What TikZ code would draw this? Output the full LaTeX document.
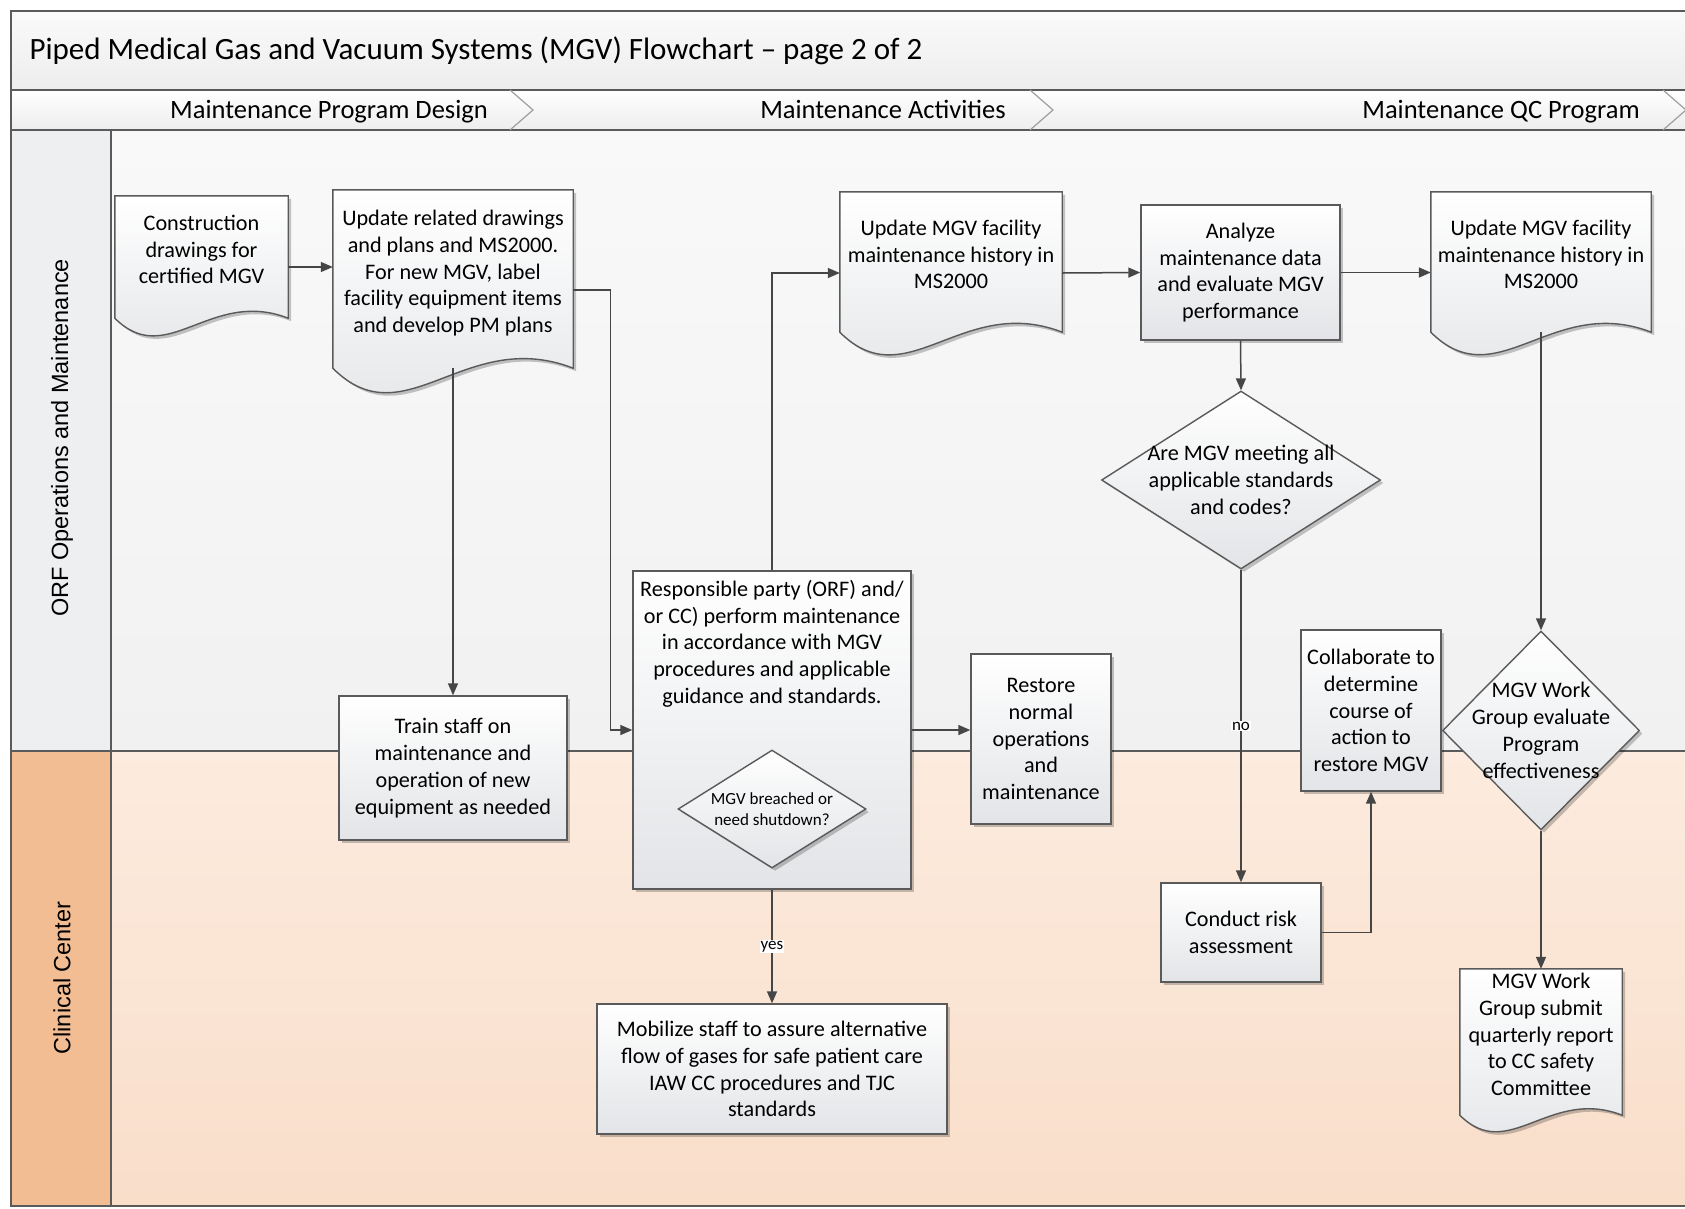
\documentclass[tikz,border=0pt]{standalone}
\usepackage{fontspec}
\setmainfont{Carlito}
\newfontfamily\lanefont{Liberation Sans}
\usetikzlibrary{calc,shapes.geometric,arrows.meta,shadows,backgrounds}
\pgfdeclarelayer{lanes}
\pgfsetlayers{lanes,background,main}

\definecolor{edgegray}{HTML}{5A5A5A}
\definecolor{flowgray}{HTML}{464646}
\definecolor{boxshade}{HTML}{E2E4E7}
\definecolor{bandtop}{HTML}{FAFAFA}
\definecolor{bandbot}{HTML}{EDEDED}
\definecolor{orftop}{HTML}{F9F9F9}
\definecolor{orfbot}{HTML}{F1F1F1}
\definecolor{orfhead}{HTML}{EEEFF1}
\definecolor{cctop}{HTML}{FCEBDE}
\definecolor{ccbot}{HTML}{F9DECA}
\definecolor{cchead}{HTML}{F2BD93}

\def\boxfont{\fontsize{22.2}{26.8}\selectfont}
\def\smallfont{\fontsize{17}{21}\selectfont}
\def\titlefont{\fontsize{31}{36}\selectfont}
\def\phasefont{\fontsize{26.5}{30}\selectfont}
\def\doctext#1{\smash{\begin{tabular}{@{}c@{}}#1\end{tabular}}}
\def\docshape#1{\path[docfill] let \p1=(#1.south west), \p2=(#1.south east), \n1={\x2-\x1} in
  (#1.north west) -- (#1.north east) -- (\p2)
  .. controls ({\x2-0.45*\n1},{\y2+0.175*\n1}) and ({\x1+0.3*\n1},{\y1-0.3*\n1}) .. (\p1) -- cycle;}

\tikzset{
  boxshadow/.style={drop shadow={shadow xshift=3pt, shadow yshift=-3pt, opacity=0.22, fill=black}},
  procbox/.style={draw=edgegray, line width=1.4pt, top color=white, bottom color=boxshade, boxshadow, align=center, font=\boxfont, inner sep=0pt},
  docnode/.style={font=\boxfont, inner sep=0pt},
  docfill/.style={draw=edgegray, line width=1.4pt, top color=white, bottom color=boxshade, boxshadow},
  decision/.style={diamond, procbox, inner sep=-20pt},
  phase/.style={anchor=base, font=\phasefont},
  flow/.style={draw=flowgray, line width=1.5pt, -{Triangle[length=12pt,width=10pt]}},
  flowlabel/.style={fill=white, inner sep=1pt, font=\smallfont},
  laneline/.style={draw=edgegray, line width=1.2pt},
  chevron/.style={draw=gray!75, line width=1.2pt},
}

\begin{document}
\begin{tikzpicture}[x=1pt, y=-1pt]
%%%%% START %%%%%
\useasboundingbox (0,0) rectangle (1685,1208);

\begin{pgfonlayer}{lanes}
  \path[top color=bandtop, bottom color=bandbot] (11,11) rectangle (1700,90);
  \path[top color=white, bottom color=bandbot] (11,90) rectangle (1700,130);
  \path[top color=orftop, bottom color=orfbot] (111,130) rectangle (1700,751);
  \path[fill=orfhead] (11,130) rectangle (111,751);
  \path[top color=cctop, bottom color=ccbot] (111,751) rectangle (1700,1206);
  \path[fill=cchead] (11,751) rectangle (111,1206);
  \draw[laneline] (1700,11) -- (11,11) -- (11,1206) -- (1700,1206);
  \draw[laneline] (11,90) -- (1700,90);
  \draw[laneline] (11,130) -- (1700,130);
  \draw[laneline] (111,130) -- (111,1206);
  \draw[laneline] (11,751) -- (1700,751);
  \draw[chevron] (510,90) -- (533,110) -- (510,130);
  \draw[chevron] (1030,90) -- (1053,110) -- (1030,130);
  \draw[chevron] (1663,90) -- (1686,110) -- (1663,130);
\end{pgfonlayer}

\node[anchor=west, font=\titlefont] (title) at (26,51) {Piped Medical Gas and Vacuum Systems (MGV) Flowchart – page 2 of 2};
\node[phase] (phasedesign) at (329,118) {Maintenance Program Design};
\node[phase] (phaseact) at (883,118) {Maintenance Activities};
\node[phase] (phaseqc) at (1501,118) {Maintenance QC Program};
\node[rotate=90, font=\lanefont\fontsize{23.5}{28}\selectfont] (orflane) at (62,438) {ORF Operations and Maintenance};
\node[rotate=90, font=\lanefont\fontsize{23.5}{28}\selectfont] (cclane) at (62,978) {Clinical Center};

% program design
\node[docnode, minimum width=173pt, minimum height=122pt] (constr) at (201.5,257) {\doctext{Construction\\drawings for\\certified MGV}};
\node[docnode, minimum width=240pt, minimum height=178pt] (update1) at (453,279) {\doctext{Update related drawings\\and plans and MS2000.\\For new MGV, label\\facility equipment items\\and develop PM plans}};
\node[procbox, minimum width=228pt, minimum height=144pt] (train) at (453,768) {Train staff on\\maintenance and\\operation of new\\equipment as needed};

% activities
\node[procbox, minimum width=278pt, minimum height=318pt] (resp) at (772,730) {\parbox[c][300pt][t]{272pt}{\centering Responsible party (ORF) and/\\ or CC) perform maintenance\\ in accordance with MGV\\ procedures and applicable\\ guidance and standards.}};
\node[decision, font=\smallfont, minimum width=188pt, minimum height=118pt, inner sep=-15pt] (breach) at (772,809) {MGV breached or\\need shutdown?};
\node[procbox, minimum width=350pt, minimum height=130pt] (mobil) at (772,1069) {Mobilize staff to assure alternative\\flow of gases for safe patient care\\IAW CC procedures and TJC\\standards};
\node[docnode, minimum width=222pt, minimum height=140pt] (hist1) at (951,262) {\doctext{Update MGV facility\\maintenance history in\\MS2000}};
\node[procbox, minimum width=140pt, minimum height=170pt] (restore) at (1041,739) {Restore\\normal\\operations\\and\\maintenance};
\node[procbox, minimum width=199pt, minimum height=135pt] (analyze) at (1240.5,272.5) {Analyze\\maintenance data\\and evaluate MGV\\performance};
\node[decision, minimum width=279pt, minimum height=178pt, inner sep=-25pt] (meet) at (1241,480) {Are MGV meeting all\\applicable standards\\and codes?};
\node[procbox, minimum width=160pt, minimum height=99pt] (risk) at (1241,932.5) {Conduct risk\\assessment};
\node[procbox, minimum width=140pt, minimum height=161pt] (collab) at (1371,710.5) {Collaborate to\\determine\\course of\\action to\\restore MGV};

% qc program
\node[docnode, minimum width=220pt, minimum height=140pt] (hist2) at (1541,262) {\doctext{Update MGV facility\\maintenance history in\\MS2000}};
\node[decision, minimum width=197pt, minimum height=199pt] (eval) at (1541,730.5) {MGV Work\\Group evaluate\\Program\\effectiveness};
\node[docnode, minimum width=162pt, minimum height=146pt] (report) at (1541,1042) {\doctext{MGV Work\\Group submit\\quarterly report\\to CC safety\\Committee}};

\begin{scope}[on background layer]
  \docshape{constr}
  \docshape{update1}
  \docshape{hist1}
  \docshape{hist2}
  \docshape{report}
\end{scope}

% connectors
\draw[flow] ([yshift=-10pt]constr.east) -- ([yshift=-10pt]constr.east -| update1.west);
\draw[flow] (update1.south) -- (train.north);
\draw[flow] ([yshift=-11pt]update1.east) -| ([xshift=-22pt]resp.west) -- (resp.west);
\draw[flow] (resp.north) |- ([yshift=-11pt]hist1.west);
\draw[flow] ([yshift=-11pt]hist1.east) -- (analyze.west);
\draw[flow] (analyze.east) -- (analyze.east -| hist2.west);
\draw[flow] (analyze.south) -- (meet.north);
\draw[flow] (meet.south) -- node[flowlabel] (nolabel) {no} (risk.north);
\draw[flow] (resp.east) -- (resp.east -| restore.west);
\draw[flow] (resp.south) -- node[flowlabel] (yeslabel) {yes} (mobil.north);
\draw[flow] (risk.east) -| (collab.south);
\draw[flow] (hist2.south) -- (eval.north);
\draw[flow] (eval.south) -- (report.north);
%%%%% END %%%%%
\end{tikzpicture}
\end{document}
